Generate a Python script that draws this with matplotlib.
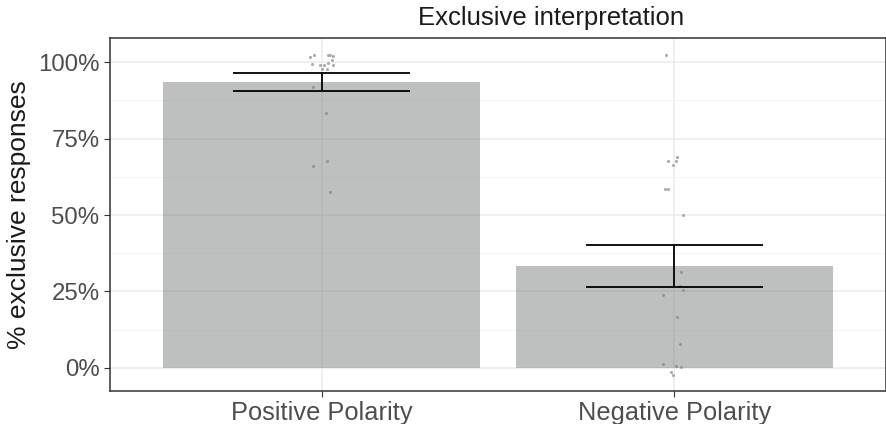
import matplotlib.pyplot as plt
import numpy as np

plt.rcParams['font.family'] = ['Liberation Sans', 'DejaVu Sans']

categories = ['Positive Polarity', 'Negative Polarity']
means = [93.5, 33.3]
err_low = [90.5, 26.5]
err_high = [96.4, 40.2]

# jittered participant points (x offset in category units, y in %)
pos_dx = [-0.032, -0.022, 0.018, 0.025, 0.032, 0.029, -0.027, -0.004, 0.006, 0.019,
          0.032, 0.002, 0.015, -0.025, 0.013, -0.024, 0.015, 0.023]
pos_y = [101.5, 102.3, 102.4, 102.2, 102.1, 100.7, 99.2, 99.0, 98.9, 99.8,
         99.0, 97.8, 97.7, 91.9, 83.2, 66.0, 67.6, 57.6]
neg_dx = [-0.025, 0.007, -0.018, 0.005, -0.003, -0.027, -0.019, 0.023,
          0.018, 0.016, 0.025, -0.032, 0.006, 0.015, -0.032, 0.004, 0.02, -0.01, -0.004]
neg_y = [102.2, 68.9, 67.5, 67.5, 66.4, 58.5, 58.5, 50.1,
         31.5, 26.8, 25.5, 24.0, 16.8, 7.8, 1.2, 0.65, 0.2, -1.3, -2.2]

fig = plt.figure(figsize=(8.87, 4.24), dpi=100)
ax = fig.add_axes([0.124, 0.078, 0.875, 0.832])

x = np.arange(1, len(categories) + 1)

ax.scatter(x[0] + np.array(pos_dx), pos_y, s=5, color='#ababab', zorder=2, linewidths=0)
ax.scatter(x[1] + np.array(neg_dx), neg_y, s=5, color='#ababab', zorder=2, linewidths=0)
ax.bar(x, means, width=0.9, color='#7f8180', alpha=0.5, zorder=3)
for xi, lo, hi in zip(x, err_low, err_high):
    ax.hlines([lo, hi], xi - 0.25, xi + 0.25, color='black', lw=1.3, zorder=4)
    ax.vlines(xi, lo, hi, color='black', lw=1.3, zorder=4)

ax.set_xlim(0.4, 2.6)
ax.set_ylim(-7.5, 107.8)
ax.set_xticks(x)
ax.set_xticklabels(categories, fontsize=18.3)
ax.set_yticks([0, 25, 50, 75, 100])
ax.set_yticklabels(['0%', '25%', '50%', '75%', '100%'], fontsize=17.3)
ax.set_yticks([12.5, 37.5, 62.5, 87.5], minor=True)
ax.grid(True, which='major', color='#ebebeb', lw=1.1, zorder=0)
ax.grid(True, which='minor', axis='y', color='#f2f2f2', lw=0.6, zorder=0)
ax.set_axisbelow(True)
ax.tick_params(axis='both', which='major', labelcolor='#4d4d4d',
               color='#333333', length=4)
ax.tick_params(axis='y', which='minor', length=0)
for s in ax.spines.values():
    s.set_color('#333333')
    s.set_linewidth(1.1)
ax.set_ylabel('% exclusive responses', fontsize=19, color='#1a1a1a', labelpad=5)
fig.text(0.621, 0.958, 'Exclusive interpretation', ha='center', va='center',
         fontsize=18.5, color='#1a1a1a')

fig.savefig('out.png', dpi=100)
